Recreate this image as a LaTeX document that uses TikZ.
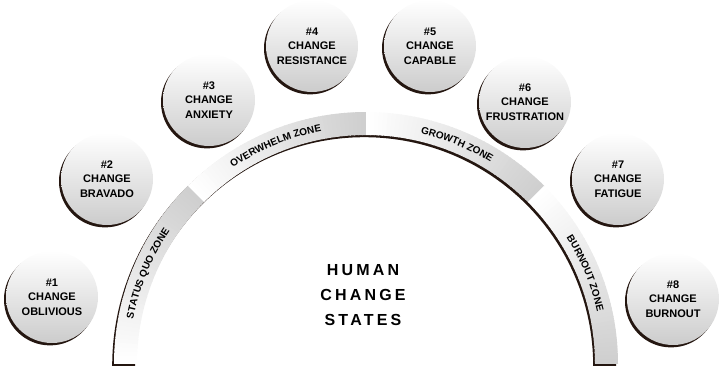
\documentclass[tikz,border=0pt]{standalone}
\usepackage{fontspec}
\setsansfont{Liberation Sans}
\usetikzlibrary{positioning,shadows,decorations.text}

\definecolor{shadowbrown}{RGB}{36,22,16}
\newcommand{\zonefont}{\sffamily\bfseries\fontsize{10}{12}\selectfont}

\tikzset{
  state/.style={circle, minimum size=92pt, inner sep=1pt, align=center,
    top color=white, bottom color=black!20,
    font=\sffamily\bfseries\fontsize{11}{14.5}\selectfont,
    drop shadow={shadow xshift=-2pt, shadow yshift=-2.4pt, fill=shadowbrown, opacity=1}},
  title/.style={align=center,
    font=\sffamily\bfseries\fontsize{16}{25}\selectfont\addfontfeature{LetterSpace=20}},
  zonetext/.style={decorate, decoration={text along path, text align=center, text={#1}}}
}

\begin{document}
\begin{tikzpicture}[x=1pt, y=1pt]
\useasboundingbox (0,0) rectangle (721,366);

% the arch of the four zones
\begin{scope}[shift={(366,2)}]
  \begin{scope}[shift={(-1.8,-2.2)}]
    \fill[shadowbrown] (180:229) -- (180:252) arc[start angle=180, end angle=0, radius=252]
      -- (0:229) arc[start angle=0, end angle=180, radius=229] -- cycle;
  \end{scope}
  % each zone fades from white to grey, clockwise
  \foreach \z in {0,...,3}
    \foreach \k in {0,...,44} {
      \pgfmathsetmacro\a{180-45*\z-\k}
      \pgfmathsetmacro\b{max(\a-1.2,0)}
      \pgfmathsetmacro\g{19*\k/44}
      \fill[black!\g] (\a:229) -- (\a:252) arc[start angle=\a, end angle=\b, radius=252]
        -- (\b:229) arc[start angle=\b, end angle=\a, radius=229] -- cycle;
    }
  \path[zonetext={|\zonefont|STATUS QUO ZONE}] (180:237) arc[start angle=180, end angle=135, radius=237];
  \path[zonetext={|\zonefont|OVERWHELM ZONE}] (135:237) arc[start angle=135, end angle=90, radius=237];
  \path[zonetext={|\zonefont|GROWTH ZONE}] (90:237) arc[start angle=90, end angle=45, radius=237];
  \path[zonetext={|\zonefont|BURNOUT ZONE}] (45:237) arc[start angle=45, end angle=0, radius=237];
\end{scope}

\node[title] (title) at (363,71) {HUMAN\\CHANGE\\STATES};

% the eight states
\node[state] (s1) at (52,69)  {\#1\\CHANGE\\OBLIVIOUS};
\node[state] (s2) at (107,187) {\#2\\CHANGE\\BRAVADO};
\node[state] (s3) at (209,266) {\#3\\CHANGE\\ANXIETY};
\node[state] (s4) at (312,320) {\#4\\CHANGE\\RESISTANCE};
\node[state] (s5) at (430,320) {\#5\\CHANGE\\CAPABLE};
\node[state] (s6) at (525,264) {\#6\\CHANGE\\FRUSTRATION};
\node[state] (s7) at (618,187) {\#7\\CHANGE\\FATIGUE};
\node[state] (s8) at (673,67)  {\#8\\CHANGE\\BURNOUT};
\end{tikzpicture}
\end{document}
